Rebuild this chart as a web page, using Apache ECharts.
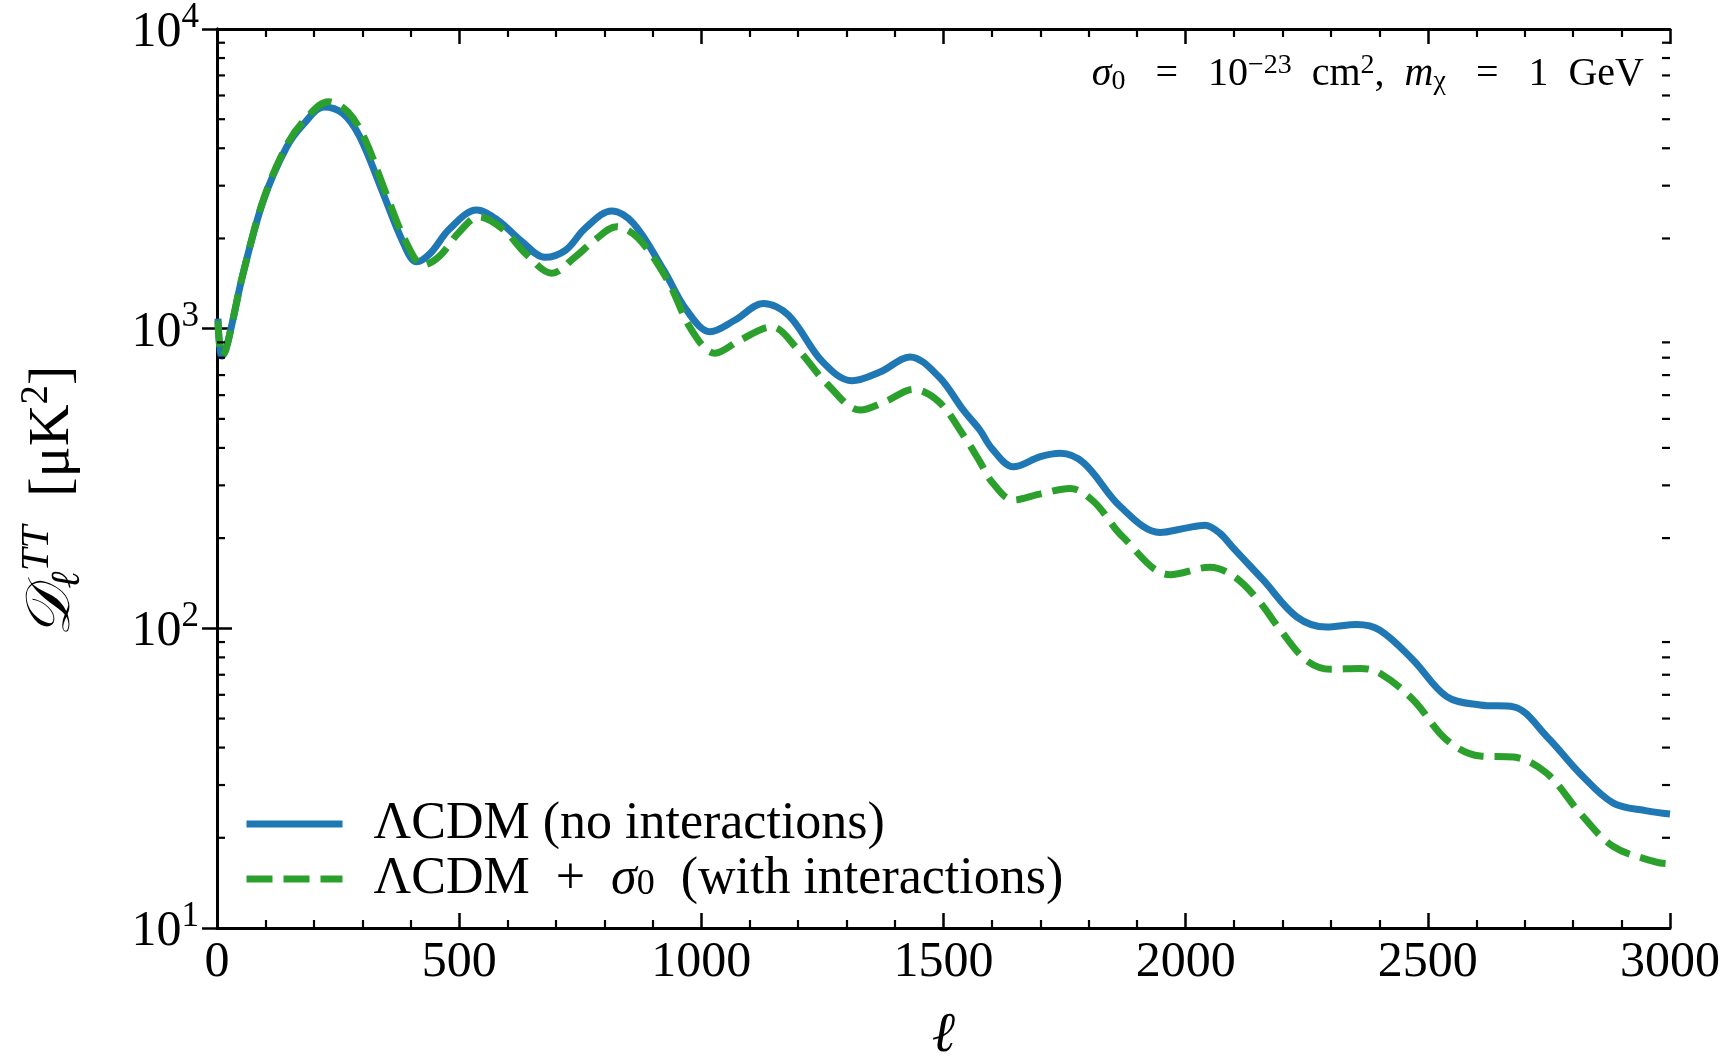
<!DOCTYPE html>
<html>
<head>
<meta charset="utf-8">
<script src="https://cdn.jsdelivr.net/npm/echarts@6/dist/echarts.min.js"></script>
<style>
html,body{margin:0;padding:0;background:#fff;}
#chart{width:1728px;height:1059px;}
</style>
</head>
<body>
<div id="chart"></div>
<script>
// ---- data ----
const ellLCDM = [2, 5, 10, 18, 30, 54, 96, 144, 180, 220, 260, 295, 343, 385, 412, 440, 480, 536, 580, 630, 677, 720, 760, 815, 860, 922, 970, 1018, 1070, 1128, 1180, 1250, 1311, 1370, 1431, 1490, 1541, 1575, 1600, 1644, 1700, 1741, 1790, 1865, 1947, 2000, 2040, 2070, 2100, 2160, 2230, 2291, 2353, 2401, 2470, 2539, 2608, 2677, 2746, 2814, 2883, 2952, 3000];
const dttLCDM = [1080, 900, 810, 850, 1020, 1531, 2687, 4045, 4842, 5495, 5224, 4365, 2826, 1928, 1671, 1782, 2150, 2489, 2300, 1950, 1730, 1829, 2161, 2472, 2244, 1571, 1150, 977, 1069, 1213, 1109, 776, 670, 718, 805, 692, 535, 459, 398, 346, 374, 384, 356, 255, 209, 216, 221, 208, 184, 145, 109, 101, 103, 98.6, 78.3, 59.2, 55.5, 54.7, 43.5, 32.8, 26.1, 24.6, 24.0];

const ellInt = [2, 5, 10, 18, 30, 54, 96, 144, 180, 230, 270, 305, 350, 390, 426, 460, 500, 540, 590, 640, 691, 740, 780, 825, 870, 930, 980, 1028, 1080, 1145, 1200, 1260, 1328, 1380, 1438, 1490, 1541, 1575, 1600, 1644, 1700, 1761, 1810, 1870, 1968, 2050, 2100, 2150, 2195, 2250, 2300, 2360, 2401, 2470, 2539, 2608, 2677, 2746, 2814, 2883, 2972, 3000];
const dttInt = [1060, 890, 810, 850, 1020, 1531, 2700, 4100, 4950, 5717, 5300, 4300, 2800, 1950, 1630, 1750, 2100, 2361, 2150, 1762, 1531, 1738, 1977, 2188, 2000, 1453, 989, 828, 916, 1014, 850, 653, 535, 571, 627, 571, 441, 360, 308, 268, 281, 293, 265, 202, 151, 160, 149, 124, 99, 78, 73, 73.5, 70.8, 57.7, 42.4, 37.5, 37.2, 32.8, 24.2, 18.7, 16.6, 16.4];

const xMajorTicks = [0, 500, 1000, 1500, 2000, 2500, 3000];
const yDecades = [10, 100, 1000, 10000];
const yMinorTicks = [20, 30, 40, 50, 60, 70, 80, 90, 200, 300, 400, 500, 600, 700, 800, 900, 2000, 3000, 4000, 5000, 6000, 7000, 8000, 9000];

const nameLCDM = 'ΛCDM (no interactions)';
const nameInt = 'ΛCDM + σ0 (with interactions)';

// ---- chart ----
const F = '"Liberation Serif", "DejaVu Serif", serif';
const BLUE = '#1f77b4', GREEN = '#2ca02c';
const chart = echarts.init(document.getElementById('chart'), null, {renderer: 'canvas'});

const axisLineStyle = {show: true, lineStyle: {color: '#000', width: 3}};
const xTickBase = {
  type: 'value', min: 0, max: 3000, interval: 500,
  axisLine: axisLineStyle,
  axisTick: {show: true, inside: true, length: 15, lineStyle: {color: '#000', width: 2.5}},
  minorTick: {show: true, splitNumber: 5, length: 8, lineStyle: {color: '#000', width: 2.2}},
  splitLine: {show: false}
};
const yBase = {
  type: 'log', min: 10, max: 10000, logBase: 10,
  axisLine: axisLineStyle,
  axisTick: {show: true, inside: true, length: 15, lineStyle: {color: '#000', width: 2.5}},
  splitLine: {show: false}
};

chart.setOption({
  animation: false,
  backgroundColor: '#fff',
  grid: {left: 217, top: 29, right: 58, bottom: 131, containLabel: false, outerBoundsMode: 'none'},
  xAxis: [
    Object.assign({}, xTickBase, {
      position: 'bottom',
      axisLabel: {show: true, margin: 10, fontFamily: F, fontSize: 50, color: '#000',
        formatter: v => xMajorTicks.includes(v) ? String(v) : ''},
      name: 'ℓ', nameLocation: 'middle', nameGap: 80,
      nameTextStyle: {fontFamily: F, fontSize: 56, fontStyle: 'italic', color: '#000'}
    }),
    Object.assign({}, xTickBase, {position: 'top', axisLabel: {show: false}})
  ],
  yAxis: [
    Object.assign({}, yBase, {
      position: 'left',
      axisLabel: {show: true, margin: 18,
        formatter: v => '{b|10}{s|' + Math.round(Math.log10(v)) + '}',
        rich: {
          b: {fontFamily: F, fontSize: 50, color: '#000', lineHeight: 58, verticalAlign: 'bottom'},
          s: {fontFamily: F, fontSize: 35, color: '#000', lineHeight: 35, verticalAlign: 'top'}
        }},
      name: '{D|𝒟}{sub|ℓ}{sup|TT}{b|  [μK}{s2|2}{b|]}',
      nameLocation: 'middle', nameRotate: 90, nameGap: 128,
      nameTextStyle: {
        padding: [0, 46, 0, 0],
        rich: {
          D: {fontFamily: F, fontSize: 62, fontStyle: 'italic', color: '#000', lineHeight: 72, verticalAlign: 'middle'},
          sub: {fontFamily: F, fontSize: 41, fontStyle: 'italic', color: '#000', lineHeight: 41, verticalAlign: 'bottom'},
          sup: {fontFamily: F, fontSize: 41, fontStyle: 'italic', color: '#000', lineHeight: 41, verticalAlign: 'top'},
          b: {fontFamily: F, fontSize: 58, color: '#000', lineHeight: 72, verticalAlign: 'middle'},
          s2: {fontFamily: F, fontSize: 39, color: '#000', lineHeight: 39, verticalAlign: 'top'}
        }
      }
    }),
    Object.assign({}, yBase, {position: 'right', axisLabel: {show: false}})
  ],
  legend: {
    show: true, orient: 'vertical', left: 238, top: 793,
    itemWidth: 96, itemHeight: 20, itemGap: 3,
    itemStyle: {opacity: 0},
    lineStyle: {width: 7},
    data: [nameLCDM, nameInt],
    formatter: n => n === nameLCDM
      ? '{n|ΛCDM (no interactions)}'
      : '{n|ΛCDM  +  }{i|σ}{sub|0}{n|  (with interactions)}',
    textStyle: {
      padding: [0, 0, 0, 26],
      rich: {
        n: {fontFamily: F, fontSize: 52, color: '#000', lineHeight: 48},
        i: {fontFamily: F, fontSize: 52, fontStyle: 'italic', color: '#000', lineHeight: 48},
        sub: {fontFamily: F, fontSize: 36, color: '#000', lineHeight: 48, verticalAlign: 'bottom'}
      }
    }
  },
  graphic: [{
    type: 'text', right: 84, top: 52, z: 100,
    style: {
      text: '{i|σ}{sub|0}{n|   =   10}{sup|−23}{n|  cm}{sup|2}{n|,  }{i|m}{sub|χ}{n|   =   1  GeV}',
      rich: {
        n: {fontFamily: F, fontSize: 40, fill: '#000', lineHeight: 44, verticalAlign: 'middle'},
        i: {fontFamily: F, fontSize: 40, fontStyle: 'italic', fill: '#000', lineHeight: 44, verticalAlign: 'middle'},
        sub: {fontFamily: F, fontSize: 28, fill: '#000', lineHeight: 28, verticalAlign: 'bottom'},
        sup: {fontFamily: F, fontSize: 28, fill: '#000', lineHeight: 28, verticalAlign: 'top'}
      }
    }
  }],
  series: [
    {
      name: nameLCDM, type: 'line', xAxisIndex: 0, yAxisIndex: 0,
      data: ellLCDM.map((l, i) => [l, dttLCDM[i]]),
      showSymbol: false, symbol: 'none', smooth: 0.35,
      lineStyle: {color: BLUE, width: 7},
      itemStyle: {color: BLUE}, z: 3
    },
    {
      name: nameInt, type: 'line', xAxisIndex: 0, yAxisIndex: 0,
      data: ellInt.map((l, i) => [l, dttInt[i]]),
      showSymbol: false, symbol: 'none', smooth: 0.35,
      lineStyle: {color: GREEN, width: 7, type: [26, 11]},
      itemStyle: {color: GREEN}, z: 4
    },
    {
      type: 'custom', xAxisIndex: 0, yAxisIndex: 0, silent: true, clip: false, z: 6,
      data: yMinorTicks.map(v => [0, v]),
      renderItem: (params, api) => {
        const v = api.value(1);
        const pL = api.coord([0, v]);
        const pR = api.coord([3000, v]);
        const st = {stroke: '#000', lineWidth: 2.2};
        return {type: 'group', children: [
          {type: 'line', shape: {x1: pL[0], y1: pL[1], x2: pL[0] + 8, y2: pL[1]}, style: st},
          {type: 'line', shape: {x1: pR[0], y1: pR[1], x2: pR[0] - 8, y2: pR[1]}, style: st}
        ]};
      }
    }
  ]
});
</script>
</body>
</html>
